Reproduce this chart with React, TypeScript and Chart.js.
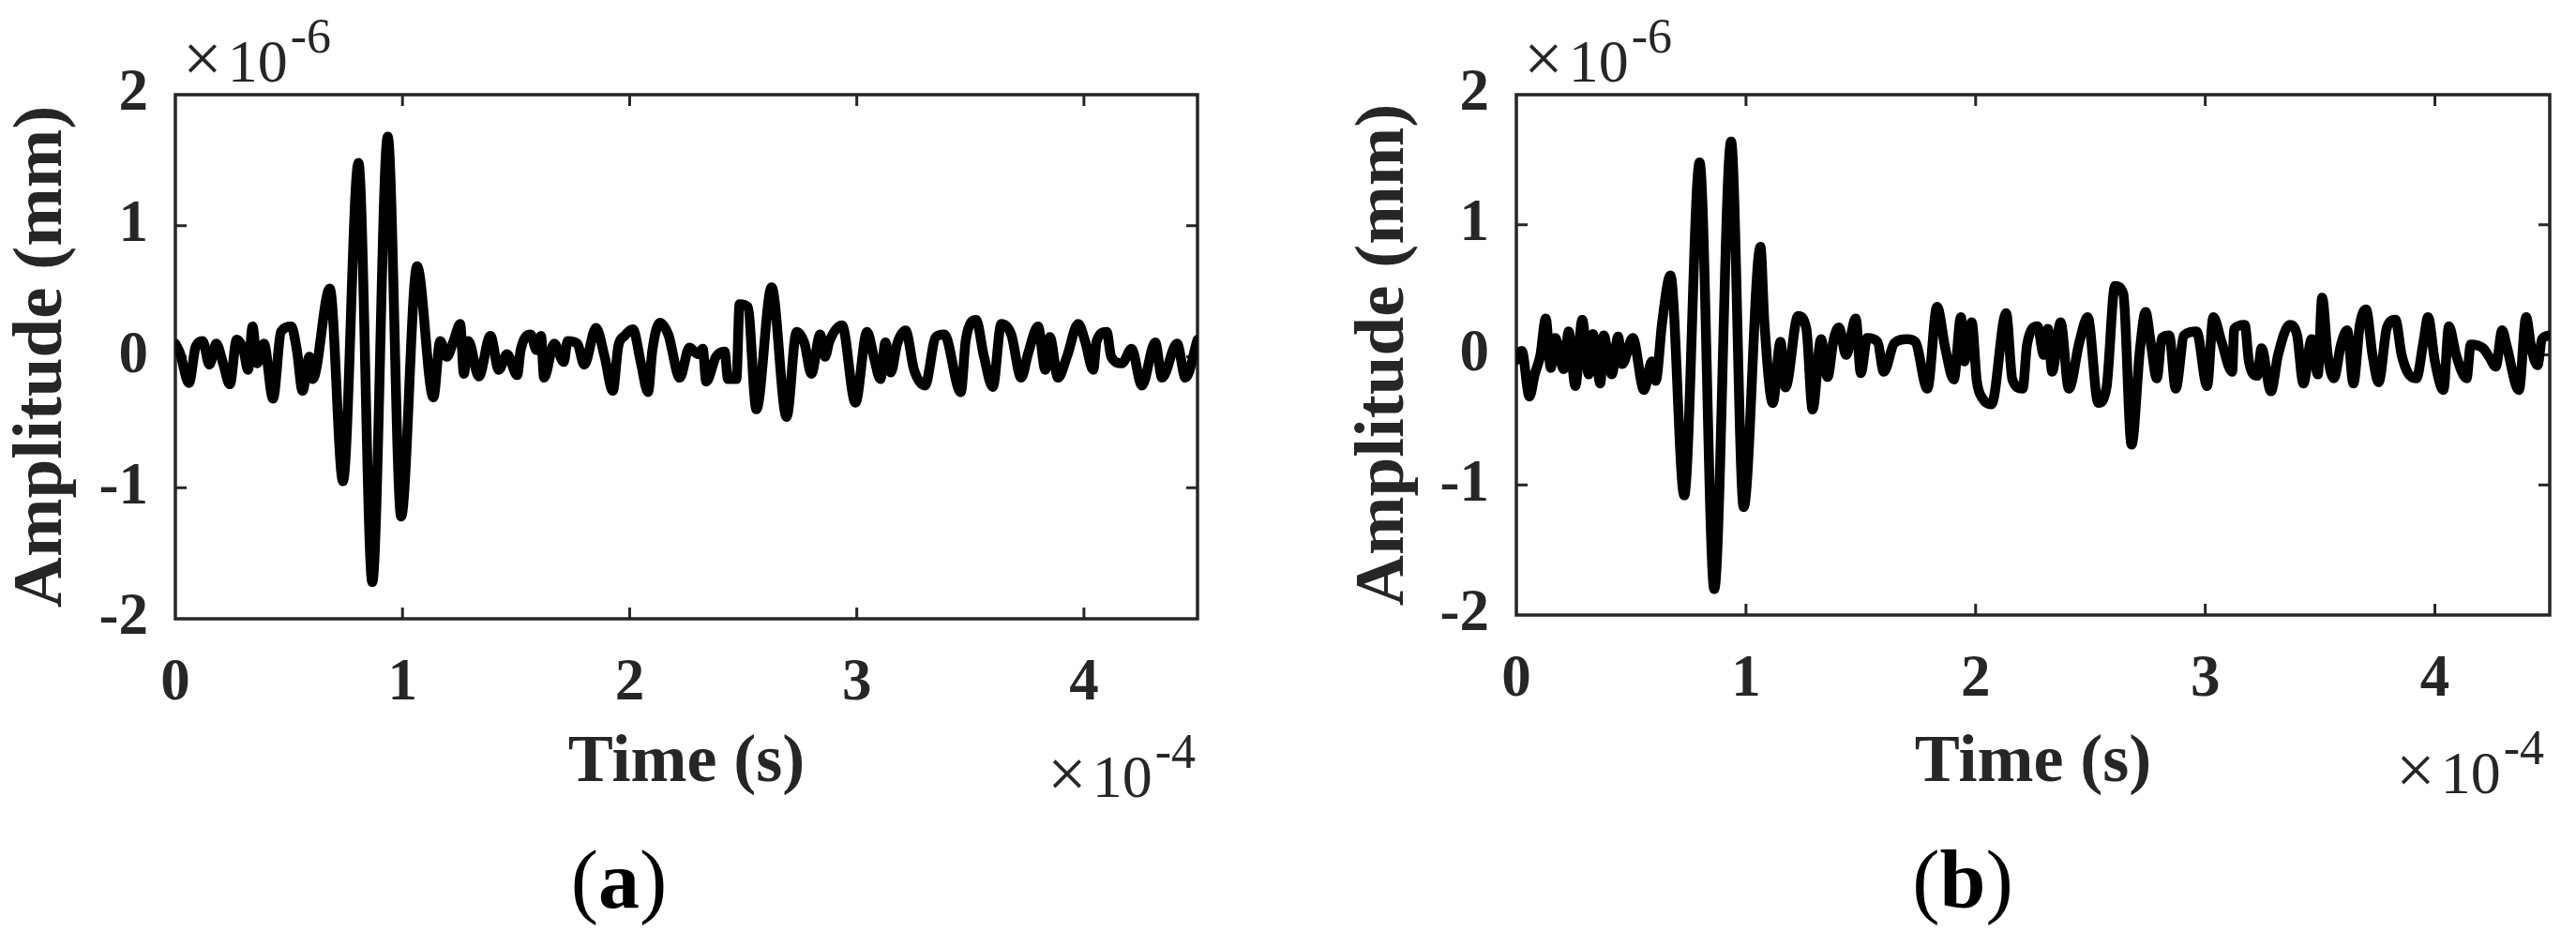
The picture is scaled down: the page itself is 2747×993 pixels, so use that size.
import React, { useEffect, useRef } from "react";
import { Chart, registerables } from "chart.js";

Chart.register(...registerables);

// ---------- data (time in units of 1e-4 s, amplitude in units of 1e-6 mm) ----------
const xTickLabels = ["0", "1", "2", "3", "4"];
const yTickLabels = ["-2", "-1", "0", "1", "2"];

const timeA = [
  0.0, 0.02, 0.06, 0.09, 0.12, 0.15, 0.18, 0.21, 0.24, 0.27, 0.3, 0.32, 0.34, 0.36, 0.39, 0.43,
  0.465, 0.51, 0.535, 0.56, 0.59, 0.605, 0.68, 0.738, 0.806, 0.867, 0.935, 0.994, 1.064, 1.136,
  1.166, 1.195, 1.225, 1.254, 1.27, 1.29, 1.336, 1.387, 1.424, 1.46, 1.505, 1.52, 1.564, 1.59,
  1.61, 1.623, 1.668, 1.71, 1.727, 1.77, 1.8, 1.852, 1.89, 1.926, 1.95, 1.978, 2.014, 2.05, 2.081,
  2.1, 2.133, 2.17, 2.221, 2.263, 2.3, 2.322, 2.337, 2.38, 2.418, 2.433, 2.47, 2.484, 2.52, 2.558,
  2.625, 2.691, 2.735, 2.77, 2.8, 2.839, 2.86, 2.88, 2.935, 2.994, 3.045, 3.075, 3.104, 3.126,
  3.15, 3.178, 3.215, 3.252, 3.3, 3.348, 3.385, 3.458, 3.48, 3.525, 3.56, 3.599, 3.636, 3.68,
  3.724, 3.755, 3.798, 3.83, 3.85, 3.886, 3.925, 3.975, 4.005, 4.041, 4.056, 4.1, 4.12, 4.167,
  4.21, 4.255, 4.314, 4.344, 4.41, 4.447, 4.5,
];
const ampA = [
  0.1, 0.03, -0.2, 0.08, 0.12, -0.06, 0.1, -0.05, -0.21, 0.13, 0.05, -0.1, 0.23, -0.05, 0.1, -0.32,
  0.19, 0.23, 0.05, -0.26, 0.0, -0.17, 0.52, -0.95, 1.48, -1.72, 1.68, -1.22, 0.69, -0.31,
  0.12, 0.0, 0.12, 0.25, -0.13, 0.12, -0.15, 0.16, -0.1, 0.02, -0.14, 0.05, 0.17, 0.05,
  0.16, -0.16, 0.1, -0.04, 0.12, 0.1, -0.06, 0.22, 0.0, -0.26, 0.08, 0.16, 0.21, -0.05, -0.27,
  0.05, 0.26, 0.17, -0.16, 0.07, 0.02, 0.06, -0.19, 0.0, 0.04, -0.17, -0.17, 0.4, 0.38, -0.4,
  0.53, -0.46, 0.19, 0.1, -0.13, 0.17, 0.0, 0.12, 0.24, -0.35, 0.19, 0.0, -0.17, 0.11,
  -0.12, 0.1, 0.2, -0.1, -0.22, 0.15, 0.17, -0.27, 0.13, 0.28, 0.0, -0.23, 0.25, 0.17,
  -0.16, 0.03, 0.23, -0.1, 0.15, -0.16, 0.0, 0.25, 0.12, -0.1, 0.12, 0.19, 0.0, -0.05,
  0.06, -0.22, 0.11, -0.16, 0.1, -0.16, 0.13,
];

const timeB = [
  0.0, 0.024, 0.057, 0.08, 0.105, 0.128, 0.15, 0.17, 0.206, 0.228, 0.257, 0.287, 0.315, 0.333,
  0.366, 0.38, 0.416, 0.443, 0.461, 0.507, 0.556, 0.59, 0.607, 0.635, 0.671, 0.731, 0.798, 0.862,
  0.935, 0.99, 1.063, 1.08, 1.117, 1.15, 1.172, 1.227, 1.263, 1.29, 1.327, 1.355, 1.382, 1.405,
  1.436, 1.478, 1.5, 1.528, 1.573, 1.6, 1.646, 1.7, 1.737, 1.79, 1.832, 1.868, 1.905, 1.936,
  1.95, 1.983, 2.005, 2.032, 2.069, 2.133, 2.16, 2.205, 2.224, 2.269, 2.297, 2.315, 2.333, 2.37,
  2.406, 2.452, 2.488, 2.534, 2.57, 2.607, 2.643, 2.679, 2.716, 2.74, 2.762, 2.789, 2.811, 2.843,
  2.871, 2.908, 2.962, 3.008, 3.035, 3.071, 3.117, 3.126, 3.172, 3.19, 3.226, 3.245, 3.286, 3.317,
  3.368, 3.4, 3.427, 3.463, 3.49, 3.509, 3.533, 3.56, 3.591, 3.618, 3.645, 3.673, 3.7, 3.728,
  3.755, 3.791, 3.828, 3.855, 3.883, 3.919, 3.95, 3.97, 4.0, 4.037, 4.061, 4.092, 4.138, 4.156,
  4.21, 4.238, 4.265, 4.293, 4.311, 4.366, 4.397, 4.42, 4.447, 4.466, 4.5,
];
const ampB = [
  -0.04, 0.03, -0.32, -0.15, 0.0, 0.28, -0.1, 0.13, -0.11, 0.18, -0.24, 0.27, -0.15, 0.16,
  -0.22, 0.15, -0.15, 0.14, -0.07, 0.13, -0.27, -0.05, -0.2, 0.25, 0.61, -1.08, 1.48, -1.8,
  1.64, -1.17, 0.83, 0.25, -0.37, 0.1, -0.25, 0.3, 0.2, -0.42, 0.12, -0.17, 0.12, 0.21,
  0.0, 0.28, -0.14, 0.13, 0.1, -0.13, 0.09, 0.12, 0.1, -0.26, 0.37, 0.05, -0.19, 0.29,
  -0.05, 0.25, -0.2, -0.34, -0.38, 0.32, -0.19, -0.26, 0.08, 0.22, 0.0, 0.2, -0.13, 0.25,
  -0.26, 0.1, 0.29, -0.37, -0.25, 0.53, 0.47, -0.69, 0.05, 0.33, 0.1, -0.18, 0.13, 0.15,
  -0.26, 0.15, 0.18, -0.24, 0.29, 0.1, -0.13, 0.2, 0.23, -0.05, -0.16, 0.05, -0.28, 0.0,
  0.23, 0.15, -0.22, 0.12, -0.15, 0.44, 0.0, -0.18, 0.08, 0.19, -0.22, 0.23, 0.35, 0.0,
  -0.21, 0.21, 0.27, 0.0, -0.14, -0.18, 0.1, 0.29, -0.05, -0.27, 0.22, 0.0, -0.18, 0.08,
  0.05, -0.02, -0.09, 0.19, 0.08, -0.27, 0.29, 0.05, -0.08, 0.12, 0.15,
];

// ---------- styling ----------
const AXIS = "#262626";
const SERIF = "'Liberation Serif', 'Times New Roman', serif";
const H = 993;

type PanelCfg = {
  left: number;
  width: number;
  plotLeft: number;
  plotRight: number;
  plotBottom: number;
  yTitlePad: number;
  time: number[];
  amp: number[];
  caption: string;
  captionX: number;
  expBaseline: number;
  expRight: number;
};

const PANELS: PanelCfg[] = [
  {
    left: 0, width: 1373, plotLeft: 187, plotRight: 1277, plotBottom: 660, yTitlePad: 1,
    time: timeA, amp: ampA, caption: "a", captionX: 660, expBaseline: 850, expRight: 1275,
  },
  {
    left: 1373, width: 1374, plotLeft: 244, plotRight: 1346, plotBottom: 656, yTitlePad: 59,
    time: timeB, amp: ampB, caption: "b", captionX: 720, expBaseline: 846, expRight: 1340,
  },
];

const TIMES_FONT = 74;
const BASE_FONT = 64;
const EXP_FONT = 52;
const TIMES_GAP = 6;

function drawPower(ctx: CanvasRenderingContext2D, xLeft: number, baseline: number, base: string, exp: string) {
  ctx.textAlign = "left";
  ctx.textBaseline = "alphabetic";
  ctx.font = `normal ${TIMES_FONT}px ${SERIF}`;
  ctx.fillText("\u00D7", xLeft, baseline);
  const wx = ctx.measureText("\u00D7").width;
  const x10 = xLeft + wx + TIMES_GAP;
  ctx.font = `normal ${BASE_FONT}px ${SERIF}`;
  ctx.fillText(base, x10, baseline);
  const w10 = ctx.measureText(base).width;
  ctx.font = `normal ${EXP_FONT}px ${SERIF}`;
  ctx.fillText(exp, x10 + w10 + 3, baseline - 31);
}

function measurePower(ctx: CanvasRenderingContext2D, base: string, exp: string) {
  ctx.font = `normal ${TIMES_FONT}px ${SERIF}`;
  let w = ctx.measureText("\u00D7").width + TIMES_GAP;
  ctx.font = `normal ${BASE_FONT}px ${SERIF}`;
  w += ctx.measureText(base).width + 3;
  ctx.font = `normal ${EXP_FONT}px ${SERIF}`;
  return w + ctx.measureText(exp).width;
}

function makeFramePlugin(cfg: PanelCfg) {
  return {
    id: "frame",
    beforeDatasetsDraw(chart: any) {
      const { ctx, chartArea: a, scales } = chart;
      const xs = scales.x;
      const ys = scales.y;
      ctx.save();
      ctx.strokeStyle = AXIS;
      ctx.lineWidth = 3.5;
      ctx.strokeRect(a.left, a.top, a.right - a.left, a.bottom - a.top);
      ctx.lineWidth = 3;
      const len = 12;
      ctx.beginPath();
      xs.ticks.forEach((t: any) => {
        const px = xs.getPixelForValue(t.value);
        if (px > a.left + 2 && px < a.right - 2) {
          ctx.moveTo(px, a.bottom);
          ctx.lineTo(px, a.bottom - len);
          ctx.moveTo(px, a.top);
          ctx.lineTo(px, a.top + len);
        }
      });
      ys.ticks.forEach((t: any) => {
        const py = ys.getPixelForValue(t.value);
        if (py > a.top + 2 && py < a.bottom - 2) {
          ctx.moveTo(a.left, py);
          ctx.lineTo(a.left + len, py);
          ctx.moveTo(a.right, py);
          ctx.lineTo(a.right - len, py);
        }
      });
      ctx.stroke();
      ctx.restore();
    },
    afterDraw(chart: any) {
      const { ctx, chartArea: a } = chart;
      ctx.save();
      ctx.fillStyle = AXIS;
      drawPower(ctx, a.left + 8, 87, "10", "-6");
      const w = measurePower(ctx, "10", "-4");
      drawPower(ctx, cfg.expRight - w, cfg.expBaseline, "10", "-4");
      // caption (a)/(b)
      ctx.fillStyle = "#000";
      ctx.textBaseline = "alphabetic";
      ctx.textAlign = "left";
      const fs = 88;
      ctx.font = `normal ${fs}px ${SERIF}`;
      const wp = ctx.measureText("(").width;
      const wpr = ctx.measureText(")").width;
      ctx.font = `bold ${fs}px ${SERIF}`;
      const wl = ctx.measureText(cfg.caption).width;
      let x = cfg.captionX - (wp + wl + wpr) / 2;
      const base = 968;
      ctx.font = `normal ${fs}px ${SERIF}`;
      ctx.fillText("(", x, base);
      x += wp;
      ctx.font = `bold ${fs}px ${SERIF}`;
      ctx.fillText(cfg.caption, x, base);
      x += wl;
      ctx.font = `normal ${fs}px ${SERIF}`;
      ctx.fillText(")", x, base);
      ctx.restore();
    },
  };
}

function Panel({ cfg }: { cfg: PanelCfg }) {
  const ref = useRef<HTMLCanvasElement | null>(null);
  useEffect(() => {
    const canvas = ref.current;
    if (!canvas) return;
    const points = cfg.time.map((t, i) => ({ x: t, y: cfg.amp[i] }));
    const tickFont = { family: SERIF, size: 63, weight: "bold" as const };
    const chart = new Chart(canvas, {
      type: "line",
      data: {
        datasets: [
          {
            data: points,
            borderColor: "#000000",
            borderWidth: 10.5,
            pointRadius: 0,
            fill: false,
            cubicInterpolationMode: "monotone",
            borderJoinStyle: "round",
            borderCapStyle: "round",
          } as any,
        ],
      },
      options: {
        responsive: false,
        animation: false,
        devicePixelRatio: 1,
        events: [],
        layout: { padding: { left: 0, top: 101, right: cfg.width - cfg.plotRight, bottom: 0 } },
        plugins: { legend: { display: false }, tooltip: { enabled: false } },
        scales: {
          x: {
            type: "linear",
            min: 0,
            max: 4.5,
            afterFit: (s: any) => {
              s.height = H - cfg.plotBottom;
            },
            grid: { display: false, drawTicks: false },
            border: { display: false },
            ticks: {
              stepSize: 1,
              includeBounds: false,
              padding: 32,
              color: AXIS,
              font: tickFont,
              maxRotation: 0,
              callback: (v: any) => {
                const i = Math.round(Number(v));
                return xTickLabels[i] ?? "";
              },
            },
            title: {
              display: true,
              text: "Time (s)",
              color: AXIS,
              font: { family: SERIF, size: 72, weight: "bold" as const },
              padding: { top: 0, bottom: 135 },
            },
          },
          y: {
            type: "linear",
            min: -2,
            max: 2,
            afterFit: (s: any) => {
              s.width = cfg.plotLeft;
            },
            grid: { display: false, drawTicks: false },
            border: { display: false },
            ticks: {
              stepSize: 1,
              padding: 29,
              color: AXIS,
              font: tickFont,
              callback: (v: any) => {
                const i = Math.round(Number(v)) + 2;
                return yTickLabels[i] ?? "";
              },
            },
            title: {
              display: true,
              text: "Amplitude (mm)",
              color: AXIS,
              font: { family: SERIF, size: 75, weight: "bold" as const },
              padding: { top: cfg.yTitlePad, bottom: 0 },
            },
          },
        },
      } as any,
      plugins: [makeFramePlugin(cfg)],
    });
    return () => chart.destroy();
  }, [cfg]);
  return (
    <canvas
      ref={ref}
      width={cfg.width}
      height={H}
      style={{ position: "absolute", left: cfg.left, top: 0, width: cfg.width, height: H }}
    />
  );
}

export default function App() {
  return (
    <div style={{ position: "absolute", left: 0, top: 0, width: 2747, height: H, background: "#ffffff" }}>
      {PANELS.map((p, i) => (
        <Panel key={i} cfg={p} />
      ))}
    </div>
  );
}
